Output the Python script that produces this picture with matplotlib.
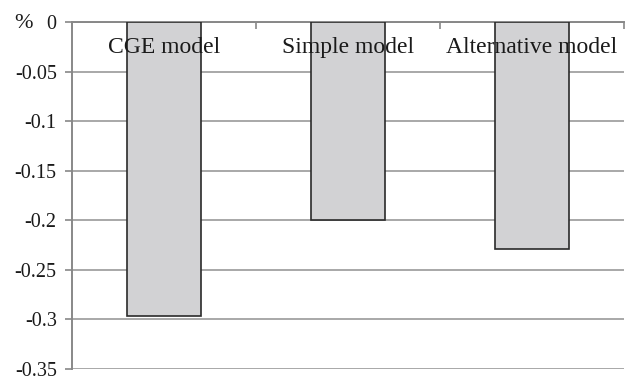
import matplotlib
matplotlib.use("Agg")
import matplotlib.pyplot as plt
import numpy as np

plt.rcParams["font.family"] = ["Liberation Serif", "DejaVu Serif"]

models = ["CGE model", "Simple model", "Alternative model"]
changes = [-0.297, -0.2, -0.229]
yticks = [0, -0.05, -0.1, -0.15, -0.2, -0.25, -0.3, -0.35]
ytick_labels = ["0", "-0.05", "-0.1", "-0.15", "-0.2", "-0.25", "-0.3", "-0.35"]

fig = plt.figure(figsize=(6.27, 3.79), dpi=100)
ax = fig.add_axes([72 / 627, 1 - 369 / 379, 552 / 627, 347 / 379])

x = np.arange(len(models))
ax.bar(x, changes, width=0.4, color="#d2d2d4", edgecolor="#2a2a2a",
       linewidth=1.2, zorder=3)

for i, name in enumerate(models):
    ax.text(i, -0.026, name, ha="center", va="center", fontsize=17,
            color="#1a1a1a", zorder=4)

ax.set_xlim(-0.5, len(models) - 0.5)
ax.set_ylim(-0.35, 0)
ax.set_yticks(yticks)
ax.set_yticklabels(ytick_labels, fontsize=14.5, color="#1a1a1a")
ax.yaxis.grid(True, color="#a8a8a8", linewidth=1.4, zorder=0)
ax.set_axisbelow(True)

ax.xaxis.tick_top()
ax.set_xticks(np.arange(-0.5, len(models), 1.0))
ax.set_xticklabels([])
ax.tick_params(axis="x", direction="in", length=5, color="#888888", width=1.2)
ax.tick_params(axis="y", direction="out", length=5, color="#888888", width=1.2,
               pad=6)

for side in ["right", "bottom"]:
    ax.spines[side].set_visible(False)
for side in ["left", "top"]:
    ax.spines[side].set_color("#888888")
    ax.spines[side].set_linewidth(1.4)

fig.text(14 / 627, 1 - 23 / 379, "%", fontsize=16, color="#1a1a1a",
         ha="left", va="center")

fig.savefig("out.png", dpi=100)
